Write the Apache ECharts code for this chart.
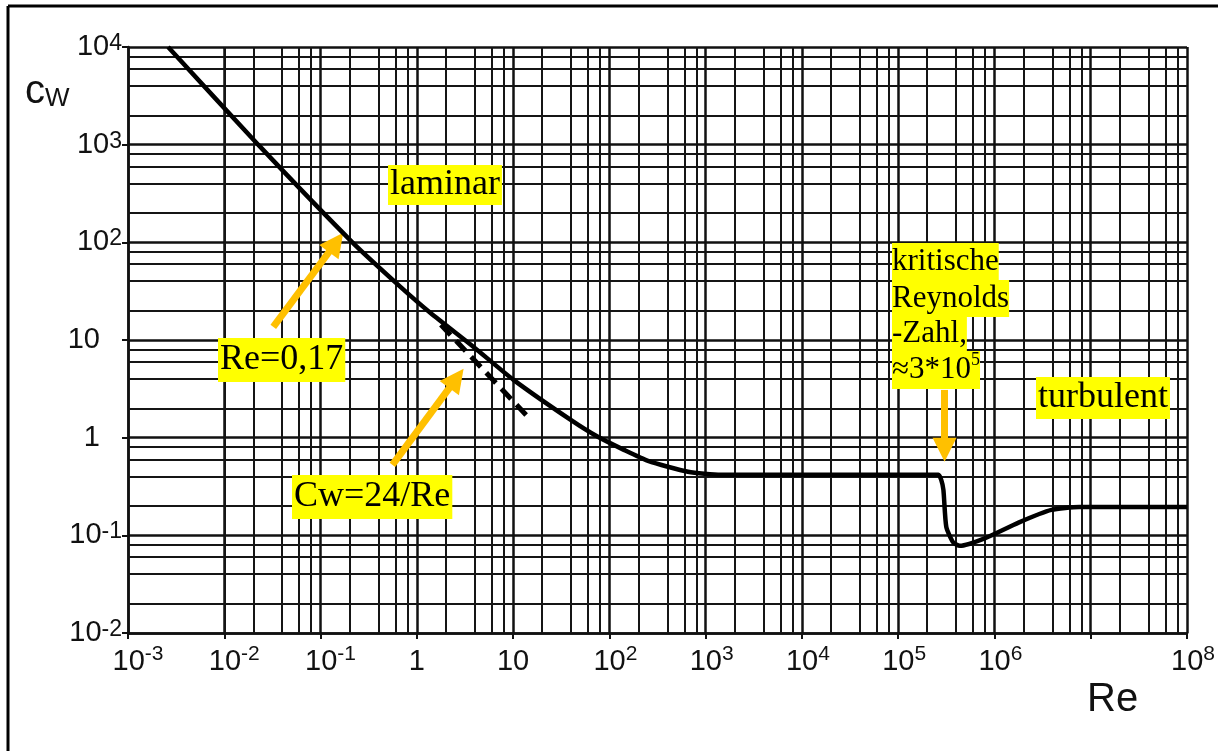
<!DOCTYPE html>
<html>
<head>
<meta charset="utf-8">
<script src="https://cdn.jsdelivr.net/npm/echarts@6/dist/echarts.min.js"></script>
<style>
  html, body { margin: 0; padding: 0; background: #fff; }
  #chart { width: 1218px; height: 751px; }
</style>
</head>
<body>
<div id="chart"></div>
<script>
// Widerstandsbeiwert cw der Kugel ueber Re
const curveRe = [0.00261, 0.0225, 0.214, 0.676, 1.389, 3.89, 10.1, 39.7, 75.9, 141.6, 252, 656, 1445, 1e4, 1e5, 2.62e5, 2.8e5, 2.95e5, 3.16e5, 3.72e5, 4.37e5, 7.9e5, 1.78e6, 3.9e6, 7.6e6, 1e8];
const curveCw = [10000, 1000, 100, 35.0, 18.9, 8.49, 3.91, 1.52, 1.02, 0.75, 0.579, 0.447, 0.416, 0.416, 0.416, 0.416, 0.37, 0.292, 0.122, 0.085, 0.078, 0.093, 0.135, 0.182, 0.195, 0.195];

// Stokes: cw = 24/Re (gestrichelt)
const stokesRe = [1.78, 14.3];
const stokesCw = [14.3, 1.63];

// Achsenbeschriftung (Exponenten)
const xTickExp = [-3, -2, -1, 0, 1, 2, 3, 4, 5, 6, 7, 8];
const xTickText = ["{xl2|}10{xsup|-3}", "{xl2|}10{xsup|-2}", "{xl2|}10{xsup|-1}", "1", "10", "{xl1|}10{xsup|2}", "{xl1|}10{xsup|3}", "{xl1|}10{xsup|4}", "{xl1|}10{xsup|5}", "{xl1|}10{xsup|6}", "", "{xl1|}10{xsup|8}"];
const yTickExp = [-2, -1, 0, 1, 2, 3, 4];
const yTickText = ["10{ysup|-2}", "10{ysup|-1}", "1{ysp|}", "10{ysp|}", "10{ysup|2}", "10{ysup|3}", "10{ysup|4}"];

// Pfeile [von, nach] in Datenkoordinaten
const arrows = [
  [[0.0323, 13.6], [0.145, 99.6]],
  [[0.558, 0.527], [2.58, 4.04]],
  [[3.03e5, 3.08], [3.03e5, 0.75]]
];

// Raster: Dekaden und 2,4,6,8
const gridMult = [2, 4, 6, 8];

function zip(a, b) {
  let out = [];
  for (let i = 0; i < a.length; i++) out.push([a[i], b[i]]);
  return out;
}

function minorLines(minExp, maxExp, axis) {
  let lines = [];
  for (let e = minExp; e < maxExp; e++) {
    for (let m of gridMult) {
      let d = {};
      d[axis] = m * Math.pow(10, e);
      lines.push(d);
    }
  }
  return lines;
}

var chart = echarts.init(document.getElementById("chart"));

const gridStyle = { color: "#151515", width: 2, type: "solid" };
const labelFont = '"Liberation Sans Narrow", "Liberation Sans", sans-serif';

let option = {
  animation: false,
  backgroundColor: "#fff",
  grid: { left: 128, right: 31, top: 47, bottom: 118, containLabel: false },
  xAxis: {
    type: "log",
    logBase: 10,
    min: 1e-3,
    max: 1e8,
    interval: 1,
    axisLine: { show: true, lineStyle: { color: "#111", width: 2.5 } },
    axisTick: { show: true, length: 6, inside: false, lineStyle: { color: "#111", width: 2 } },
    splitLine: { show: true, lineStyle: { color: "#111", width: 2.5 } },
    axisLabel: {
      margin: 11,
      fontFamily: labelFont,
      fontSize: 29,
      lineHeight: 36,
      color: "#111",
      formatter: function (v) {
        let e = Math.round(Math.log10(v));
        let i = xTickExp.indexOf(e);
        return i >= 0 ? xTickText[i] : "";
      },
      rich: {
        xsup: { fontSize: 21, lineHeight: 20, verticalAlign: "top", fontFamily: labelFont, color: "#111" },
        xl1: { width: 12 },
        xl2: { width: 20 }
      }
    }
  },
  yAxis: {
    type: "log",
    logBase: 10,
    min: 1e-2,
    max: 1e4,
    interval: 1,
    axisLine: { show: true, lineStyle: { color: "#111", width: 2.5 } },
    axisTick: { show: true, length: 6, inside: false, lineStyle: { color: "#111", width: 2 } },
    splitLine: { show: true, lineStyle: { color: "#111", width: 2.5 } },
    axisLabel: {
      margin: 6,
      fontFamily: labelFont,
      fontSize: 29,
      lineHeight: 30,
      color: "#111",
      formatter: function (v) {
        let e = Math.round(Math.log10(v));
        let i = yTickExp.indexOf(e);
        return i >= 0 ? yTickText[i] : "";
      },
      rich: {
        ysup: { fontSize: 23, lineHeight: 23, verticalAlign: "top", fontFamily: labelFont, color: "#111" },
        ysp: { width: 22 }
      }
    }
  },
  series: [
    {
      // Raster 2,4,6,8
      name: "raster",
      type: "line",
      data: [],
      z: 1,
      silent: true,
      markLine: {
        silent: true,
        symbol: ["none", "none"],
        label: { show: false },
        lineStyle: gridStyle,
        emphasis: { disabled: true },
        data: minorLines(-3, 8, "xAxis").concat(minorLines(-2, 4, "yAxis"))
      }
    },
    {
      name: "cw",
      type: "line",
      data: zip(curveRe, curveCw),
      showSymbol: false,
      smooth: 0.2,
      z: 5,
      lineStyle: { color: "#000", width: 4.5 }
    },
    {
      name: "24/Re",
      type: "line",
      data: zip(stokesRe, stokesCw),
      showSymbol: false,
      z: 5,
      lineStyle: { color: "#000", width: 5, type: [14, 8] }
    },
    {
      name: "pfeile",
      type: "line",
      data: [],
      z: 8,
      silent: true,
      markLine: {
        silent: true,
        symbol: ["none", "triangle"],
        symbolSize: 24,
        label: { show: false },
        lineStyle: { color: "#FFC000", width: 7, type: "solid" },
        emphasis: { disabled: true },
        data: arrows.map(function (a) {
          return [{ coord: a[0] }, { coord: a[1] }];
        })
      }
    }
  ],
  graphic: [
    { type: "line", z: 20, shape: { x1: 8, y1: 6, x2: 1218, y2: 6 }, style: { stroke: "#000", lineWidth: 3 } },
    { type: "line", z: 20, shape: { x1: 8, y1: 6, x2: 8, y2: 751 }, style: { stroke: "#000", lineWidth: 3 } },
    {
      type: "text", left: 25, top: 72, z: 20,
      style: {
        text: "c{w|W}",
        font: '40px "Liberation Sans", sans-serif',
        fill: "#111",
        rich: { w: { fontSize: 26, lineHeight: 26, verticalAlign: "bottom", fontFamily: "Liberation Sans", fill: "#111" } }
      }
    },
    { type: "text", left: 1087, top: 680, z: 20, style: { text: "Re", font: '40px "Liberation Sans", sans-serif', fill: "#111" } },
    { type: "text", left: 388, top: 165, z: 20, style: { text: "laminar", font: '36px "Liberation Serif", serif', fill: "#000", backgroundColor: "#FFFF00", padding: [0, 2, 0, 2], lineHeight: 40 } },
    { type: "text", left: 218, top: 338, z: 20, style: { text: "Re=0,17", font: '36px "Liberation Serif", serif', fill: "#000", backgroundColor: "#FFFF00", padding: [1, 2, 1, 2], lineHeight: 42 } },
    { type: "text", left: 292, top: 475, z: 20, style: { text: "Cw=24/Re", font: '36px "Liberation Serif", serif', fill: "#000", backgroundColor: "#FFFF00", padding: [1, 2, 1, 2], lineHeight: 42 } },
    { type: "text", left: 1036, top: 377, z: 20, style: { text: "turbulent", font: '36px "Liberation Serif", serif', fill: "#000", backgroundColor: "#FFFF00", padding: [1, 2, 1, 2], lineHeight: 40 } },
    { type: "text", left: 892, top: 243, z: 20, style: { text: "kritische", font: '31px "Liberation Serif", serif', fill: "#000", backgroundColor: "#FFFF00", lineHeight: 37 } },
    { type: "text", left: 892, top: 280, z: 20, style: { text: "Reynolds", font: '31px "Liberation Serif", serif', fill: "#000", backgroundColor: "#FFFF00", lineHeight: 37 } },
    { type: "text", left: 892, top: 317, z: 20, style: { text: "-Zahl,", font: '31px "Liberation Serif", serif', fill: "#000", backgroundColor: "#FFFF00", lineHeight: 34 } },
    {
      type: "text", left: 892, top: 351, z: 20,
      style: {
        text: "≈3*10{s|5}",
        font: '31px "Liberation Serif", serif',
        fill: "#000",
        backgroundColor: "#FFFF00",
        lineHeight: 38,
        rich: { s: { fontSize: 18, lineHeight: 18, verticalAlign: "top", fontFamily: "Liberation Serif", fill: "#000" } }
      }
    }
  ]
};

chart.clear();
chart.setOption(option);
window.addEventListener("resize", () => {
  chart.resize();
});
</script>
</body>
</html>
